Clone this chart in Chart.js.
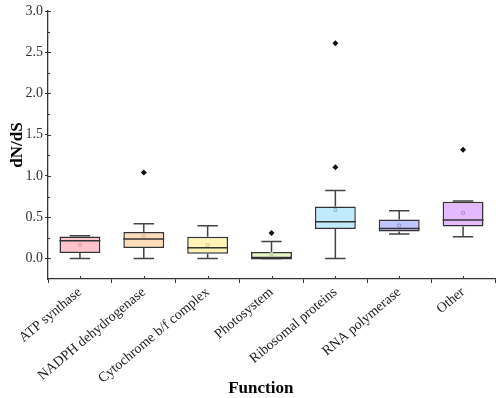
<!DOCTYPE html>
<html>
<head>
<meta charset="utf-8">
<script src="https://cdn.jsdelivr.net/npm/chart.js@4"></script>
<style>
  body { margin: 0; background: #fff; }
  #wrap { width: 500px; height: 398px; position: relative; }
</style>
</head>
<body>
<div id="wrap"><canvas id="boxChart"></canvas></div>
<script>
// data
var categories = ['ATP synthase', 'NADPH dehydrogenase', 'Cytochrome b/f complex', 'Photosystem', 'Ribosomal proteins', 'RNA polymerase', 'Other'];
var q1 = [0.065, 0.126, 0.057, 0.0, 0.356, 0.327, 0.387];
var q3 = [0.266, 0.32, 0.263, 0.077, 0.63, 0.472, 0.686];
var medians = [0.214, 0.235, 0.13, 0.0, 0.444, 0.363, 0.465];
var whiskerLow = [0.0, 0.0, 0.0, 0.0, 0.0, 0.295, 0.263];
var whiskerHigh = [0.275, 0.42, 0.396, 0.205, 0.823, 0.577, 0.695];
var means = [0.166, 0.275, 0.162, 0.053, 0.586, 0.40, 0.553];
var outliers = [[], [1.04], [], [0.307], [1.106, 2.61], [], [1.316]];
var yTickValues = [0, 0.5, 1.0, 1.5, 2.0, 2.5, 3.0];

var boxColors = ['#ffc3cc', '#ffdcb9', '#fff4b6', '#e6f7c0', '#c0eafd', '#c0c6fd', '#e5b9fd'];
var meanColors = ['#d9a0a9', '#d9b898', '#d6cc94', '#b8c99a', '#8fb8cc', '#8f96cc', '#b48fcc'];
var serif = "'Liberation Serif', 'Times New Roman', serif";

var outlierPoints = [];
outliers.forEach(function (vals, i) {
    vals.forEach(function (v) {
        outlierPoints.push({ x: categories[i], y: v });
    });
});

// whiskers, medians, inner ticks
var boxExtras = {
    id: 'boxExtras',
    afterDatasetsDraw: function (chart) {
        var ctx = chart.ctx;
        var xs = chart.scales.x;
        var ys = chart.scales.y;
        var bars = chart.getDatasetMeta(0).data;
        ctx.save();
        categories.forEach(function (c, i) {
            var cx = xs.getPixelForValue(i);
            var half = bars[i].width / 2;
            var capHalf = half / 2;
            ctx.strokeStyle = '#444';
            ctx.lineWidth = 1.5;
            ctx.beginPath();
            ctx.moveTo(cx, ys.getPixelForValue(q3[i]));
            ctx.lineTo(cx, ys.getPixelForValue(whiskerHigh[i]));
            ctx.moveTo(cx, ys.getPixelForValue(q1[i]));
            ctx.lineTo(cx, ys.getPixelForValue(whiskerLow[i]));
            ctx.moveTo(cx - capHalf, ys.getPixelForValue(whiskerHigh[i]));
            ctx.lineTo(cx + capHalf, ys.getPixelForValue(whiskerHigh[i]));
            ctx.moveTo(cx - capHalf, ys.getPixelForValue(whiskerLow[i]));
            ctx.lineTo(cx + capHalf, ys.getPixelForValue(whiskerLow[i]));
            ctx.stroke();
            ctx.strokeStyle = '#333';
            ctx.beginPath();
            ctx.moveTo(cx - half, ys.getPixelForValue(medians[i]));
            ctx.lineTo(cx + half, ys.getPixelForValue(medians[i]));
            ctx.stroke();
        });

        // ticks pointing into the plot
        var area = chart.chartArea;
        ctx.strokeStyle = '#333';
        ctx.lineWidth = 1;
        ctx.beginPath();
        for (var v = 0; v <= 3.0001; v += 0.25) {
            var py = Math.round(ys.getPixelForValue(v)) + 0.5;
            var major = Math.abs(v * 2 - Math.round(v * 2)) < 0.001;
            ctx.moveTo(area.left, py);
            ctx.lineTo(area.left + (major ? 3 : 2), py);
        }
        categories.forEach(function (c, i) {
            var px = Math.round(xs.getPixelForValue(i)) + 0.5;
            ctx.moveTo(px, area.bottom);
            ctx.lineTo(px, area.bottom - 3);
        });
        ctx.stroke();

        // x axis title
        ctx.fillStyle = '#000';
        ctx.font = 'bold 17px ' + serif;
        ctx.textAlign = 'center';
        ctx.textBaseline = 'alphabetic';
        ctx.fillText('Function', area.left + (area.right - area.left) * 0.476, 393);
        ctx.restore();
    }
};

new Chart(document.getElementById('boxChart'), {
    type: 'bar',
    data: {
        labels: categories,
        datasets: [{
            data: categories.map(function (c, i) { return [q1[i], q3[i]]; }),
            backgroundColor: boxColors,
            borderColor: '#333',
            borderWidth: 1.5,
            borderSkipped: false,
            barPercentage: 0.64,
            categoryPercentage: 1,
            order: 3
        }, {
            type: 'line',
            data: means,
            showLine: false,
            pointStyle: 'rect',
            pointRadius: 2,
            pointBorderWidth: 1,
            pointBackgroundColor: 'rgba(0,0,0,0)',
            pointBorderColor: meanColors,
            order: 1
        }, {
            type: 'line',
            data: outlierPoints,
            showLine: false,
            pointStyle: 'rectRot',
            pointRadius: 3,
            pointBackgroundColor: '#111',
            pointBorderColor: '#111',
            pointBorderWidth: 0,
            order: 1
        }]
    },
    options: {
        responsive: true,
        maintainAspectRatio: false,
        animation: false,
        layout: { padding: { top: 11, right: 3, left: 0, bottom: 0 } },
        plugins: {
            legend: { display: false },
            tooltip: { enabled: false }
        },
        scales: {
            x: {
                offset: true,
                grid: { display: true, drawOnChartArea: false, drawTicks: true, tickLength: 4, color: '#333' },
                border: { display: true, color: '#333', width: 1.3 },
                ticks: {
                    color: '#222',
                    font: { family: serif, size: 14 },
                    minRotation: 40,
                    maxRotation: 40,
                    autoSkip: false,
                    padding: 1
                },
                afterFit: function (scale) { scale.height = 119; }
            },
            y: {
                min: -0.25,
                max: 3.0,
                grid: { display: true, drawOnChartArea: false, drawTicks: true, tickLength: 3, color: '#333' },
                border: { display: true, color: '#333', width: 1.3 },
                ticks: {
                    color: '#333',
                    font: { family: serif, size: 14 },
                    padding: 2,
                    callback: function (v) { return Number(v).toFixed(1); }
                },
                afterBuildTicks: function (scale) {
                    scale.ticks = yTickValues.map(function (v) { return { value: v }; });
                },
                title: {
                    display: true,
                    text: 'dN/dS',
                    color: '#000',
                    font: { family: serif, size: 17, weight: 'bold' },
                    padding: { top: 7, bottom: 0 }
                },
                afterFit: function (scale) { scale.width = 48; }
            }
        }
    },
    plugins: [boxExtras]
});
</script>
</body>
</html>
